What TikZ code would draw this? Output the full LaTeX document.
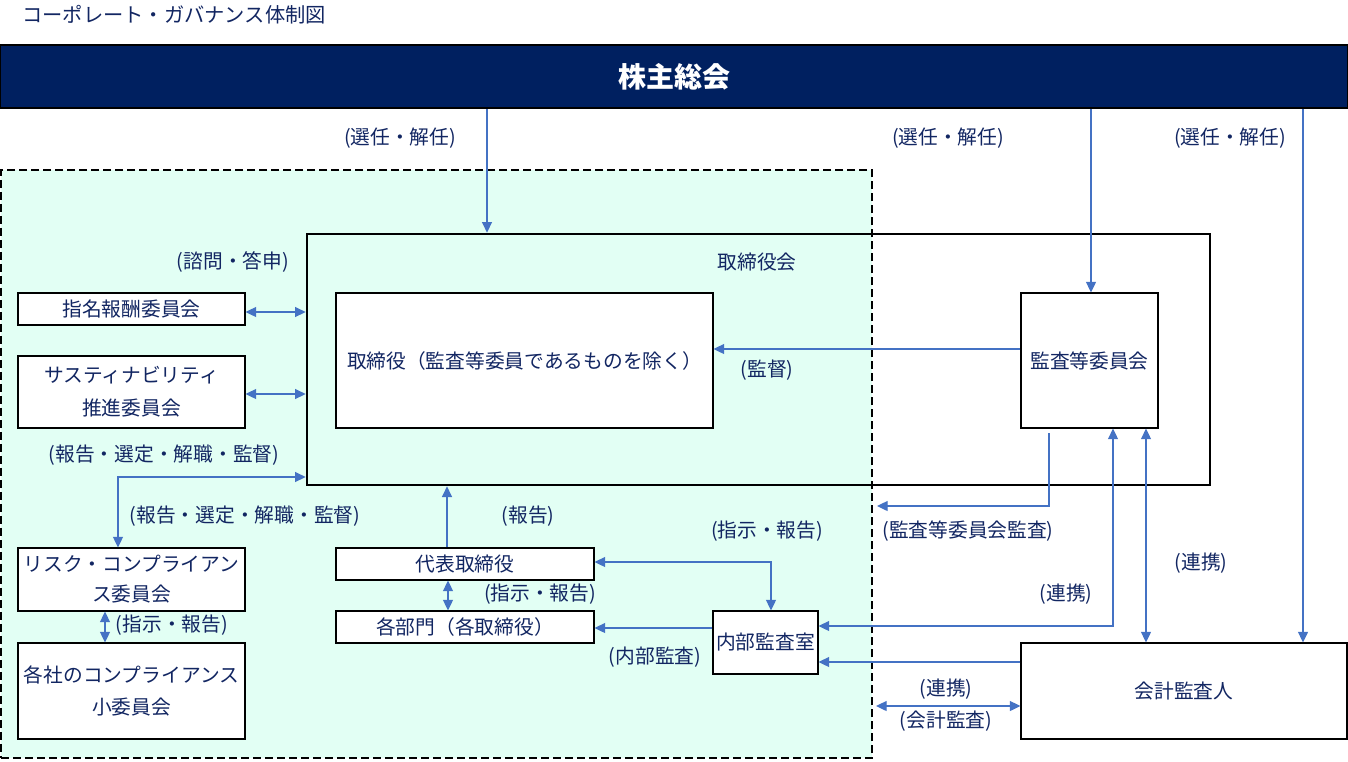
\documentclass[tikz,border=0pt]{standalone}
\usepackage{fontspec}
\setmainfont{Noto Sans CJK JP}
\usetikzlibrary{arrows.meta}
\definecolor{navy}{RGB}{0,32,96}
\definecolor{txt}{RGB}{18,38,98}
\definecolor{mint}{RGB}{226,255,244}
\definecolor{ablue}{RGB}{68,114,196}
\tikzset{
  box/.style={draw=black, line width=0.8pt, fill=white, inner sep=0pt, align=center},
  lbl/.style={inner sep=0pt},
  arr/.style={draw=ablue, line width=1pt, -{Triangle[length=8pt,width=7.5pt]}},
  darr/.style={draw=ablue, line width=1pt, {Triangle[length=8pt,width=7.5pt]}-{Triangle[length=8pt,width=7.5pt]}},
}
\begin{document}
\begin{tikzpicture}[x=0.75pt,y=-0.75pt, text=txt, font=\fontsize{14.8}{22.5}\selectfont]
\useasboundingbox (0,0) rectangle (1348,761);
% title
\node[lbl, anchor=west, font=\fontsize{15.2}{18}\selectfont] (title) at (22,15) {コーポレート・ガバナンス体制図};
% shareholders meeting bar
\node[inner sep=0pt, minimum width=1011pt, minimum height=47.25pt, fill=navy, draw=black, line width=1.2pt, text=white, font=\bfseries\fontsize{21}{24}\selectfont] (gm) at (674,76.5) {株主総会};
% dashed group
\node[inner sep=0pt, minimum width=653.25pt, minimum height=441pt, draw=black, fill=mint, line width=1.4pt, dash pattern=on 6pt off 3pt] (group) at (436.5,464) {};
% board
\node[inner sep=0pt, minimum width=677.25pt, minimum height=188.25pt, draw=black, line width=2pt] (board) at (758.5,359.5) {};
\node[lbl] (boardlbl) at (757,262) {取締役会};
% boxes
\node[box, minimum width=282.75pt, minimum height=101.25pt] (dir) at (524.5,360.5) {取締役（監査等委員であるものを除く）};
\node[box, minimum width=102.75pt, minimum height=101.25pt] (ac) at (1089.5,360.5) {監査等委員会};
\node[box, minimum width=170.25pt, minimum height=24pt] (nom) at (131.5,309) {指名報酬委員会};
\node[box, minimum width=170.25pt, minimum height=54pt, font=\fontsize{14.8}{24.5}\selectfont] (sus) at (131.5,392) {サスティナビリティ\\推進委員会};
\node[box, minimum width=170.25pt, minimum height=47.25pt] (risk) at (131.5,579.5) {リスク・コンプライアン\\ス委員会};
\node[box, minimum width=170.25pt, minimum height=72pt, font=\fontsize{14.8}{23.5}\selectfont] (sub) at (131.5,691) {各社のコンプライアンス\\小委員会};
\node[box, minimum width=193.5pt, minimum height=24pt] (rep) at (465,564) {代表取締役};
\node[box, minimum width=193.5pt, minimum height=24pt] (dept) at (465,627) {各部門（各取締役）};
\node[box, minimum width=78.75pt, minimum height=47.25pt] (ia) at (765.5,642.5) {内部監査室};
\node[box, minimum width=244.5pt, minimum height=72pt] (aud) at (1184,691) {会計監査人};
% labels
\node[lbl] (l1) at (400,138) {(選任・解任)};
\node[lbl] (l2) at (948,138) {(選任・解任)};
\node[lbl] (l3) at (1230,138) {(選任・解任)};
\node[lbl] (l4) at (233,262) {(諮問・答申)};
\node[lbl] (l5) at (164,455) {(報告・選定・解職・監督)};
\node[lbl] (l6) at (245,516) {(報告・選定・解職・監督)};
\node[lbl] (l7) at (172,625) {(指示・報告)};
\node[lbl] (l8) at (528,516) {(報告)};
\node[lbl] (l9) at (540,594) {(指示・報告)};
\node[lbl] (l10) at (767,531) {(指示・報告)};
\node[lbl] (l11) at (655,657) {(内部監査)};
\node[lbl] (l12) at (767,370) {(監督)};
\node[lbl] (l13) at (968,531) {(監査等委員会監査)};
\node[lbl] (l14) at (1066,594) {(連携)};
\node[lbl] (l15) at (1201,563) {(連携)};
\node[lbl] (l16) at (946,689) {(連携)};
\node[lbl] (l17) at (946,721) {(会計監査)};
% connectors
\draw[arr] (gm.south -| 487,0) -- (board.north -| 487,0);
\draw[arr] (gm.south -| 1091,0) -- (ac.north -| 1091,0);
\draw[arr] (gm.south -| 1303,0) -- (aud.north -| 1303,0);
\draw[darr] (nom.east |- 0,312) -- (board.west |- 0,312);
\draw[darr] (sus.east |- 0,394) -- (board.west |- 0,394);
\draw[darr] (board.west |- 0,477) -| (risk.north -| 118,0);
\draw[darr] (risk.south -| 105,0) -- (sub.north -| 105,0);
\draw[arr] (rep.north -| 447,0) -- (board.south -| 447,0);
\draw[darr] (rep.south -| 448,0) -- (dept.north -| 448,0);
\draw[darr] (rep.east |- 0,562) -| (ia.north -| 771,0);
\draw[arr] (ia.west |- 0,628) -- (dept.east |- 0,628);
\draw[arr] (ac.west |- 0,349) -- (dir.east |- 0,349);
\coordinate (acaud) at (1049,433);
\coordinate (grpend) at (877,506);
\draw[arr] (acaud) |- (grpend);
\draw[darr] (ia.east |- 0,626) -| (ac.south -| 1113,0);
\draw[darr] (ac.south -| 1146,0) -- (aud.north -| 1146,0);
\draw[arr] (aud.west |- 0,662) -- (ia.east |- 0,662);
\coordinate (grpend2) at (876,706);
\draw[darr] (grpend2) -- (aud.west |- 0,706);
\end{tikzpicture}
\end{document}
